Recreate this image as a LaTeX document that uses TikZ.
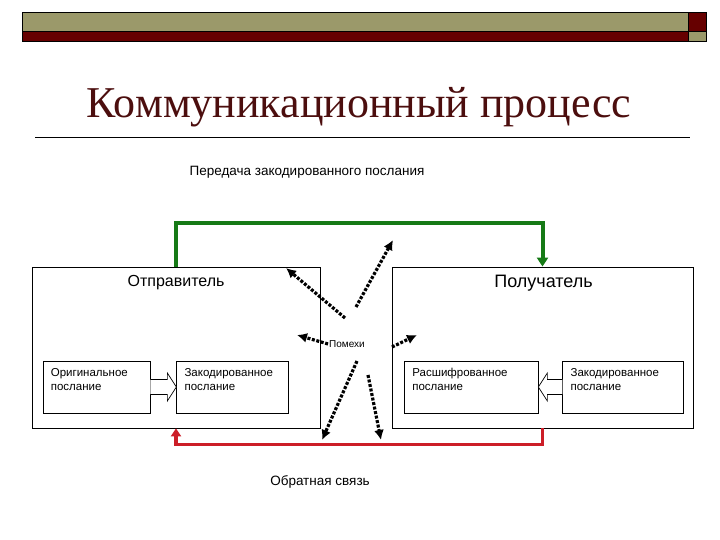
\documentclass[tikz,border=0pt]{standalone}
\usepackage{fontspec}
\setmainfont{Liberation Sans}
\newfontfamily\titlefont{Liberation Serif}
\usetikzlibrary{positioning,arrows.meta,calc}
\definecolor{barolive}{RGB}{155,153,106}
\definecolor{barred}{RGB}{102,0,0}
\definecolor{titlered}{RGB}{76,14,14}
\definecolor{sendgreen}{RGB}{22,122,22}
\definecolor{backred}{RGB}{204,30,40}

\begin{document}
\begin{tikzpicture}[
    x=1pt, y=1pt,
    party/.style={rectangle, draw=black, line width=0.8pt, minimum width=#1,
                  minimum height=161pt, inner sep=0pt},
    msgbox/.style={rectangle, draw=black, line width=0.7pt, minimum width=#1,
                   minimum height=52pt, inner sep=0pt},
    msgtext/.style={anchor=north west, align=left, inner sep=2pt, font=\fontsize{11.5}{14}\selectfont},
    hollow/.style={draw=black, line width=0.7pt, fill=white},
    transmit/.style={-{Triangle[length=9pt,width=11pt]}, sendgreen, line width=4pt},
    feedback/.style={-{Triangle[length=8pt,width=10pt]}, backred, line width=3.5pt},
    noisearrow/.style={-{Latex[length=10pt,width=10pt]}, line width=3.2pt, dash pattern=on 3pt off 1.6pt}
]
\useasboundingbox (0,0) rectangle (720,540);

% Header bar
\draw[fill=barolive, line width=0.8pt] (22,509) rectangle (688,528);
\draw[fill=barred, line width=0.8pt] (22,499) rectangle (688,509);
\draw[fill=barred, line width=0.8pt] (688,509) rectangle (706,528);
\draw[fill=barolive, line width=0.8pt] (688,499) rectangle (706,509);

% Title
\node[anchor=base, font=\titlefont\fontsize{44}{50}\selectfont, text=titlered] (title) at (359,422) {Коммуникационный процесс};
\draw[line width=0.6pt] (35,403) -- (690,403);

% Sender and receiver
\node[party=288pt] (sender) at (176,192.5) {};
\node[party=301pt] (receiver) at (542.5,192.5) {};
\node[font=\fontsize{16}{19}\selectfont] (sendername) at ($(sender.north)+(0,-16)$) {Отправитель};
\node[font=\fontsize{18}{21}\selectfont] (recvname) at ($(receiver.north)+(1,-16.5)$) {Получатель};

% Messages
\node[msgbox=107pt] (orig) at (96.5,153) {};
\node[msgbox=112pt, right=26pt of orig] (enc) {};
\node[msgbox=134pt] (dec) at (471,153) {};
\node[msgbox=121pt, right=24pt of dec] (recv) {};
\node[msgtext] (origtxt) at ([shift={(6pt,-5.5pt)}]orig.north west) {Оригинальное\\послание};
\node[msgtext] (enctxt) at ([shift={(6pt,-5.5pt)}]enc.north west) {Закодированное\\послание};
\node[msgtext] (dectxt) at ([shift={(6.5pt,-5.5pt)}]dec.north west) {Расшифрованное\\послание};
\node[msgtext] (recvtxt) at ([shift={(6pt,-5.5pt)}]recv.north west) {Закодированное\\послание};

% Hollow arrows inside the boxes
\draw[hollow] ($(orig.east)+(0,7.5)$) -- ($(enc.west)+(-9,7.5)$) -- ($(enc.west)+(-9,14)$) -- (enc.west)
    -- ($(enc.west)+(-9,-14)$) -- ($(enc.west)+(-9,-7.5)$) -- ($(orig.east)+(0,-7.5)$);
\draw[hollow] ($(recv.west)+(0,7.5)$) -- ($(dec.east)+(9,7.5)$) -- ($(dec.east)+(9,14)$) -- (dec.east)
    -- ($(dec.east)+(9,-14)$) -- ($(dec.east)+(9,-7.5)$) -- ($(recv.west)+(0,-7.5)$);

% Transmission and feedback
\node[font=\fontsize{13.5}{16}\selectfont] (sendlbl) at (307,368) {Передача закодированного послания};
\draw[transmit] (sender.north) -- ++(0,44) -| (receiver.north);
\draw[feedback] (receiver.south) -- ++(0,-16) -| (sender.south);
\node[font=\fontsize{13.5}{16}\selectfont] (backlbl) at (320,58) {Обратная связь};

% Noise
\node[font=\fontsize{10}{12}\selectfont, inner sep=1pt] (noise) at (347,196) {Помехи};
\coordinate (nup1) at (286,272);
\coordinate (nup2) at (393,300);
\coordinate (nleft) at (297,205);
\coordinate (nright) at (417,205);
\coordinate (ndown1) at (322,100);
\coordinate (ndown2) at (381,100);
\draw[noisearrow] ($(noise)+(-2,26)$) -- (nup1);
\draw[noisearrow] ($(noise)+(9,37)$) -- (nup2);
\draw[noisearrow] (noise.west) -- (nleft);
\draw[noisearrow] ($(noise.east)+(26,-3)$) -- (nright);
\draw[noisearrow] ($(noise)+(10,-17)$) -- (ndown1);
\draw[noisearrow] ($(noise)+(21,-31)$) -- (ndown2);

\end{tikzpicture}
\end{document}
